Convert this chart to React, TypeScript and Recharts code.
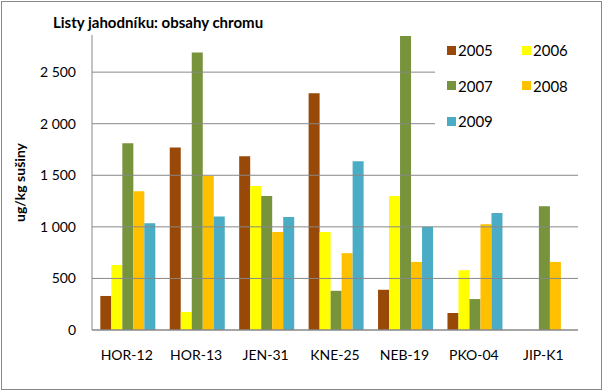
import React from "react"
import {BarChart, Bar, XAxis, YAxis, ReferenceLine} from "recharts"

const categories = ["HOR-12", "HOR-13", "JEN-31", "KNE-25", "NEB-19", "PKO-04", "JIP-K1"]
const years = ["2005", "2006", "2007", "2008", "2009"]
const colors = ["#984807", "#FFFF00", "#77933C", "#FFC000", "#4BACC6"]

const v2005 = [330, 1770, 1685, 2295, 390, 165, null]
const v2006 = [630, 175, 1395, 950, 1300, 580, null]
const v2007 = [1810, 2690, 1300, 380, 2850, 300, 1200]
const v2008 = [1345, 1495, 950, 745, 660, 1025, 660]
const v2009 = [1035, 1100, 1095, 1635, 1000, 1135, null]

const yTicks = [0, 500, 1000, 1500, 2000, 2500]
const boundaryTicks = [0, 1, 2, 3, 4, 5, 6, 7]

const series = [v2005, v2006, v2007, v2008, v2009]
const chartData = categories.map((name, i) => {
    const row: any = {name}
    years.forEach((y, j) => { row[y] = series[j][i] })
    return row
})

const font = "Lato, 'Open Sans', sans-serif"
const fmt = (v: number) => v >= 1000 ? `${Math.floor(v / 1000)} ${String(v % 1000).padStart(3, "0")}` : String(v)

const LegendBox = () => (
    <div style={{position: "absolute", left: 435, top: 38, background: "#fff", width: 150, height: 102, fontFamily: font, fontSize: 15, zIndex: 2}}>
        {years.map((y, i) => (
            <div key={y} style={{position: "absolute", left: (i % 2) * 75 + 12, top: Math.floor(i / 2) * 35.5 + 3, display: "flex", alignItems: "center"}}>
                <span style={{width: 9, height: 9, background: colors[i], display: "inline-block", marginRight: 2}} />
                <span>{y}</span>
            </div>
        ))}
    </div>
)

const App = () => {
    return (
        <div style={{position: "absolute", left: 0, top: 0, width: 603, height: 391, background: "#fff"}}>
            <div style={{position: "absolute", left: 1, top: 1, width: 599, height: 387, border: "1px solid #888", pointerEvents: "none", zIndex: 3}} />
            <div style={{position: "absolute", left: 53, top: 13, fontFamily: font, fontWeight: "bold", fontSize: 15, zIndex: 2}}>
                Listy jahodníku: obsahy chromu
            </div>
            <BarChart width={603} height={391} data={chartData}
                margin={{top: 35, right: 25, left: 0, bottom: 31}}
                barCategoryGap="12%" barGap={0}>
                <XAxis xAxisId="bounds" type="number" domain={[0, 7]} ticks={boundaryTicks} height={0}
                    stroke="#888" tickFormatter={() => ""} tickSize={5} axisLine={false} />
                <XAxis dataKey="name" stroke="#888" tickLine={false} interval={0} height={30}
                    tick={{fill: "#000", fontFamily: font, fontSize: 14}} tickMargin={14} />
                <YAxis domain={[0, 2860]} ticks={yTicks} width={92} stroke="#888" tickLine={false}
                    tickFormatter={fmt} tick={{fill: "#000", fontFamily: font, fontSize: 14}} tickMargin={10}
                    label={{
                        content: (p: any) => {
                            const vb = p.viewBox
                            const cx = 19
                            const cy = vb.y + vb.height / 2
                            return <text x={cx} y={cy} transform={`rotate(-90 ${cx} ${cy})`} textAnchor="middle"
                                dominantBaseline="central" fontFamily={font} fontWeight="bold" fontSize={14}>ug/kg sušiny</text>
                        }
                    }} />
                {yTicks.map(t => (
                    <ReferenceLine key={t} y={t} stroke="#888" />
                ))}
                {years.map((y, i) => (
                    <Bar key={y} dataKey={y} fill={colors[i]} isAnimationActive={false} />
                ))}
            </BarChart>
            <LegendBox />
        </div>
    )
}

export default App
